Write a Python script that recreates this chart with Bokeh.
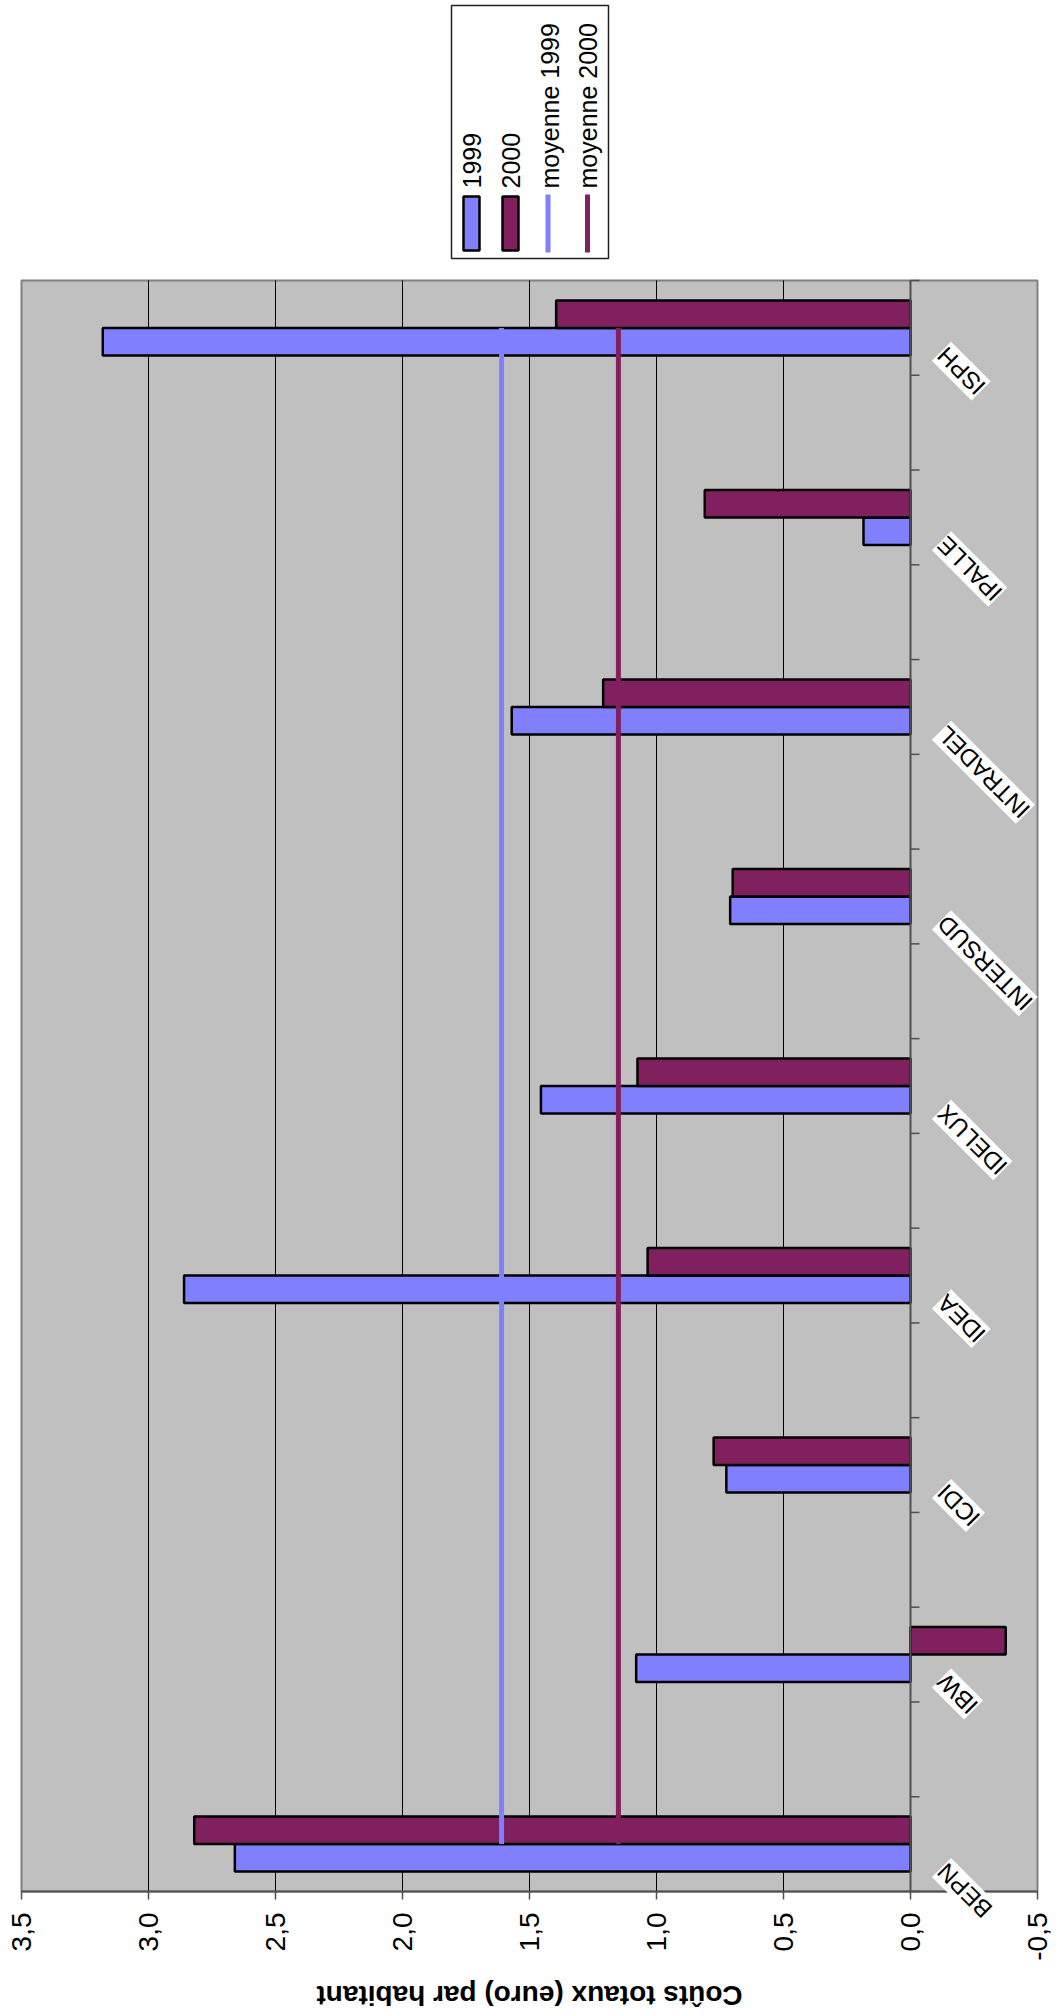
import math
from bokeh.plotting import figure
from bokeh.models import Range1d, FixedTicker, CustomJSTickFormatter, LabelSet, ColumnDataSource
from bokeh.layouts import column
from bokeh.transform import dodge
from bokeh.core.properties import value
from bokeh.embed import file_html
from bokeh.resources import INLINE

# ---------------- data ----------------
categories = ["BEPN", "IBW", "ICDI", "IDEA", "IDELUX", "INTERSUD", "INTRADEL", "IPALLE", "ISPH"]
values_1999 = [2.66, 1.08, 0.725, 2.86, 1.455, 0.71, 1.57, 0.185, 3.18]
values_2000 = [2.82, -0.375, 0.775, 1.035, 1.075, 0.70, 1.21, 0.81, 1.395]
mean_1999 = 1.61
mean_2000 = 1.15
series_names = ["1999", "2000", "moyenne 1999", "moyenne 2000"]
x_ticks = [3.5, 3.0, 2.5, 2.0, 1.5, 1.0, 0.5, 0.0, -0.5]
x_tick_labels = ["3,5", "3,0", "2,5", "2,0", "1,5", "1,0", "0,5", "0,0", "-0,5"]
axis_title = "Coûts totaux (euro) par habitant"

# ---------------- style / layout ----------------
C1999 = "#8080FF"
C2000 = "#80205F"
AXIS_C = "#505050"
FONT = "Liberation Sans"

W = 1052
LEG_H = 276
MAIN_H = 1736
PA_L, PA_R, PA_T, PA_B = 21, 1037, 280, 1891   # plot area on the page

n = len(categories)
pad = 0.25
y_lo, y_hi = -pad, n - 1 + pad
x_start, x_end = x_ticks[0], x_ticks[-1]
ppx = (PA_R - PA_L) / (x_start - x_end)
ppy = (PA_B - PA_T) / (y_hi - y_lo)

xr = Range1d(x_start + PA_L / ppx, x_end - (W - PA_R) / ppx)
yr = Range1d(y_lo - (LEG_H + MAIN_H - PA_B) / ppy, y_hi + (PA_T - LEG_H) / ppy)

bar_h = 27.5 / ppy

p = figure(width=W, height=MAIN_H, x_range=xr, y_range=yr,
           output_backend="svg", toolbar_location=None, y_axis_location=None,
           min_border=0, background_fill_color="white", border_fill_color="white",
           outline_line_color=None)
p.grid.visible = False

# plot area
p.quad(left=x_start, right=x_end, bottom=y_lo, top=y_hi,
       fill_color="#C0C0C0", line_color="#808080", line_width=2)

# vertical gridlines at the value ticks
grid_x = [t for t in x_ticks if t not in (x_start, x_end)]
p.segment(x0=grid_x, x1=grid_x, y0=[y_lo] * len(grid_x), y1=[y_hi] * len(grid_x),
          line_color="black", line_width=1)

# value axis (placed on the bottom edge of the plot area)
p.xaxis.fixed_location = y_lo
p.xaxis.bounds = (min(x_ticks), max(x_ticks))
p.xaxis.ticker = FixedTicker(ticks=x_ticks)
p.xaxis.formatter = CustomJSTickFormatter(
    args=dict(tick_values=x_ticks, tick_labels=x_tick_labels),
    code="""
    for (let i = 0; i < tick_values.length; i++) {
        if (Math.abs(tick_values[i] - tick) < 1e-9) { return tick_labels[i]; }
    }
    return '';
    """)
p.xaxis.major_label_orientation = math.pi / 2
p.xaxis.major_label_text_font = FONT
p.xaxis.major_label_text_font_size = "28px"
p.xaxis.major_label_text_color = "black"
p.xaxis.major_label_standoff = 13
p.xaxis.major_tick_out = 8
p.xaxis.major_tick_in = 0
p.xaxis.minor_tick_out = 0
p.xaxis.minor_tick_in = 0
p.xaxis.axis_line_color = AXIS_C
p.xaxis.axis_line_width = 2
p.xaxis.major_tick_line_color = AXIS_C
p.xaxis.major_tick_line_width = 1.5

src = ColumnDataSource(dict(
    y=list(range(n)),
    cat=categories,
    v1999=values_1999,
    v2000=values_2000,
    m1999=[mean_1999] * n,
    m2000=[mean_2000] * n,
    lx=[-31.0 / ppx] * n,
    ly=[i - 0.25 + 24.0 / ppy for i in range(n)],
))

p.hbar(y=dodge("y", -bar_h / 2, range=p.y_range), height=bar_h, left=0, right="v1999",
       source=src, fill_color=C1999, line_color="black", line_width=2.5)
p.hbar(y=dodge("y", bar_h / 2, range=p.y_range), height=bar_h, left=0, right="v2000",
       source=src, fill_color=C2000, line_color="black", line_width=2.5)

p.line(x="m1999", y="y", source=src, line_color=C1999, line_width=5)
p.line(x="m2000", y="y", source=src, line_color=C2000, line_width=5)

# category axis at value 0
p.segment(x0=[0], x1=[0], y0=[y_lo], y1=[y_hi], line_color=AXIS_C, line_width=2)
cat_ticks = [y_lo + 0.5 * k for k in range(int(round((y_hi - y_lo) / 0.5)) + 1)]
p.segment(x0=[0] * len(cat_ticks), x1=[-9.0 / ppx] * len(cat_ticks),
          y0=cat_ticks, y1=cat_ticks, line_color=AXIS_C, line_width=1.5)

p.add_layout(LabelSet(x="lx", y="ly", text="cat", source=src,
                      angle=3 * math.pi / 4, text_align="right", text_baseline="middle",
                      text_font=value(FONT), text_font_size=value("24px"),
                      text_color="black", background_fill_color="white"))

# axis title (upside down, as in the rotated original)
p.text(x=[(x_start + x_end) / 2], y=[y_lo - (1995 - PA_B) / ppy], text=[axis_title],
       angle=math.pi, text_align="center", text_baseline="middle",
       text_font=value(FONT), text_font_size=value("28px"), text_font_style=value("bold"),
       text_color="black")

# ---------------- legend (rotated) ----------------
lg = figure(width=W, height=LEG_H, x_range=Range1d(0, W), y_range=Range1d(0, LEG_H),
            output_backend="svg", toolbar_location=None,
            x_axis_location=None, y_axis_location=None, min_border=0,
            outline_line_color=None, background_fill_color="white", border_fill_color="white")
lg.grid.visible = False


def Y(cy):
    return LEG_H - cy


lg.quad(left=451, right=608, top=Y(5), bottom=Y(258), fill_color="white",
        line_color="#202020", line_width=1.5)
lg.quad(left=[463, 502], right=[479, 518], top=Y(196), bottom=Y(250),
        fill_color=[C1999, C2000], line_color="black", line_width=2.5)
lg.segment(x0=[547.5, 587], x1=[547.5, 587], y0=Y(194), y1=Y(252),
           line_color=[C1999, C2000], line_width=5)
lg.text(x=[471.5, 510, 549, 587.5], y=[Y(188)] * 4, text=series_names, angle=math.pi / 2,
        text_align="left", text_baseline="middle", text_font=value(FONT),
        text_font_size=value("25px"), text_color="black")

layout = column(lg, p)
open("out.html", "w").write(file_html(layout, INLINE))
